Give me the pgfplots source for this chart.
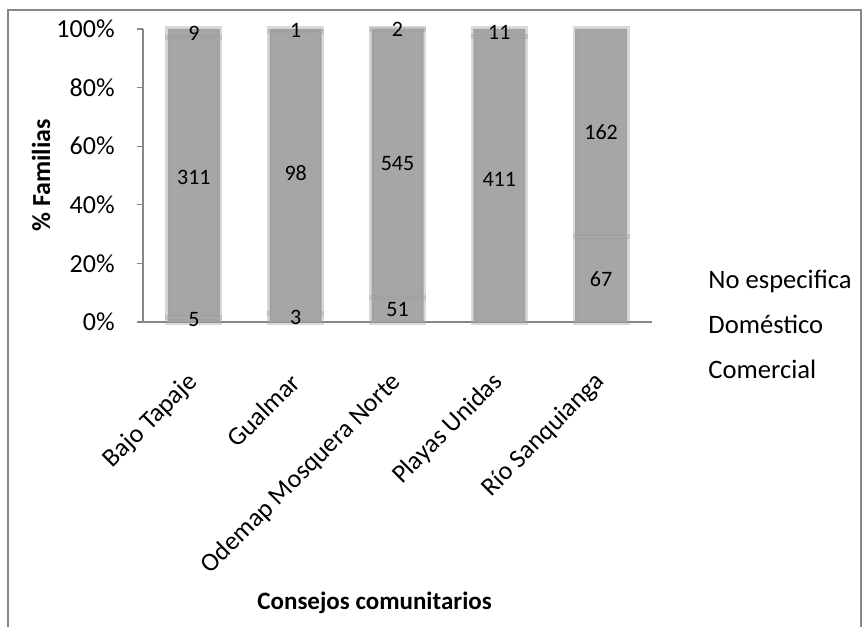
\documentclass[border=0pt]{standalone}
\usepackage{fontspec}
\setmainfont{Carlito}
\usepackage{pgfplots}
\pgfplotsset{compat=1.18}
\usepackage{pgfplotstable}

\definecolor{barfill}{HTML}{A6A6A6}
\definecolor{baredge}{HTML}{A0A0A0}
\definecolor{axisgray}{HTML}{878787}

% Número de familias por uso, en cada consejo comunitario
\pgfplotstableread{
x com dom nes
0 5   311 9
1 3   98  1
2 51  545 2
3 0   411 11
4 0   67  162
}\usos

% Segmento apilado: porcentaje sobre el total del consejo, etiqueta con el conteo
\pgfplotsset{
  seg/.style={
    fill=barfill, draw=baredge, draw opacity=0.4, line width=2.5pt,
    point meta=explicit,
    nodes near coords={\pgfmathfloatifflags{\pgfplotspointmeta}{0}{}{\pgfmathprintnumber{\pgfplotspointmeta}}},
    every node near coord/.append style={
      anchor=center,
      font=\fontsize{11}{13}\selectfont, text=black, text opacity=1,
      draw=none, inner sep=0pt},
  },
}

\begin{document}
\begin{tikzpicture}
\useasboundingbox (0,0) rectangle (432.5pt,313pt);
\draw[axisgray, line width=0.8pt] (4pt,-2pt) -- (4pt,308pt) -- (430.5pt,308pt) -- (430.5pt,-2pt);
\begin{axis}[
  at={(71.5pt,152pt)}, anchor=south west,
  x=50.9pt, y=1.465pt,
  xmin=-0.5, xmax=4.5, ymin=0, ymax=100,
  ybar stacked, bar width=26pt,
  clip=false,
  axis x line=bottom, axis y line=left,
  axis line style={-, axisgray, line width=0.6pt},
  xtick={0,...,4},
  xticklabels={Bajo Tapaje, Gualmar, Odemap Mosquera Norte, Playas Unidas, Río Sanquianga},
  x tick style={draw=none},
  ytick={0,20,...,100},
  yticklabel={\pgfmathprintnumber{\tick}\%},
  y tick style={axisgray, line width=0.6pt},
  tick align=outside, major tick length=3pt,
  /pgf/number format/assume math mode=true,
  tick label style={font=\fontsize{13}{15}\selectfont},
  yticklabel style={anchor=east, inner sep=0pt, xshift=-11pt},
  xticklabel style={anchor=east, inner sep=0pt, yshift=-25pt, xshift=0pt, rotate=45},
  xlabel={Consejos comunitarios},
  ylabel={\% Familias},
  label style={font=\bfseries\fontsize{12.5}{15}\selectfont},
  xlabel style={at={(axis description cs:0.455,-0.96)}, anchor=center},
  ylabel style={at={(axis description cs:-0.2,0.5)}, anchor=center, font=\bfseries\fontsize{13}{15}\selectfont},
  reverse legend,
  legend image code/.code={},
  legend style={draw=none, fill=none, at={(axis description cs:1.11,0.18)},
    anchor=north west, inner sep=0pt, row sep=10pt,
    font=\fontsize{13.3}{16}\selectfont,
    nodes={inner sep=0pt, text height=9.5pt, text depth=3pt, anchor=west}},
]
\addplot[seg=com] table[x=x, y expr=100*\thisrow{com}/(\thisrow{com}+\thisrow{dom}+\thisrow{nes}), meta=com] {\usos};
\addplot[seg=dom] table[x=x, y expr=100*\thisrow{dom}/(\thisrow{com}+\thisrow{dom}+\thisrow{nes}), meta=dom] {\usos};
\addplot[seg=nes] table[x=x, y expr=100*\thisrow{nes}/(\thisrow{com}+\thisrow{dom}+\thisrow{nes}), meta=nes] {\usos};
\legend{Comercial, Doméstico, No especifica}
\end{axis}
\end{tikzpicture}
\end{document}
